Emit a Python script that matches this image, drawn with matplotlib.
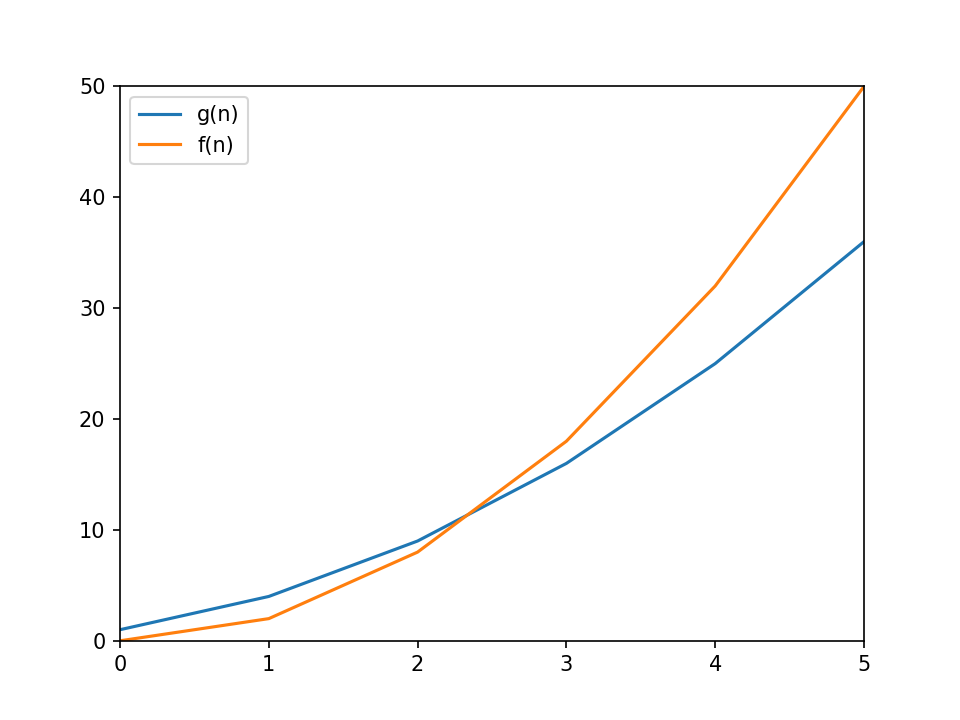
import matplotlib
matplotlib.use("Agg")
import matplotlib.pyplot as plt

# Data
n = [0, 1, 2, 3, 4, 5]
g_vals = [1, 4, 9, 16, 25, 36]
f_vals = [0, 2, 8, 18, 32, 50]

fig, ax = plt.subplots(figsize=(6.4, 4.8), dpi=150)
ax.plot(n, g_vals, label="g(n)")
ax.plot(n, f_vals, label="f(n)")
ax.set_xlim(0, 5)
ax.set_ylim(0, 50)
ax.legend(loc="upper left")

fig.savefig("out.png")
